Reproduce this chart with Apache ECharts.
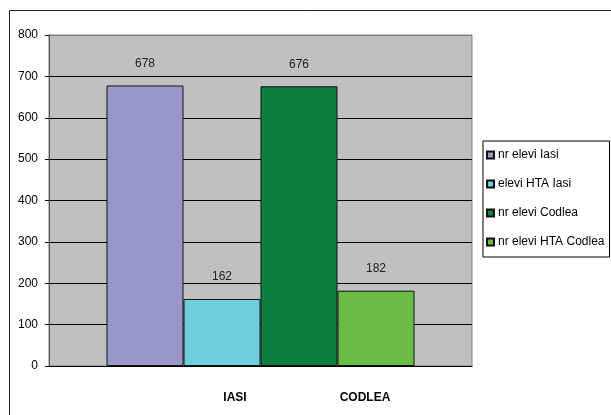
<!DOCTYPE html>
<html>
<head>
<meta charset="utf-8">
<script src="https://cdn.jsdelivr.net/npm/echarts@6/dist/echarts.min.js"></script>
<style>
  html, body { margin: 0; padding: 0; background: #fff; }
  #chart { width: 611px; height: 415px; }
</style>
</head>
<body>
<div id="chart"></div>
<script>
// Series names (legend entries)
const seriesNames = ['nr elevi Iasi', 'elevi HTA Iasi', 'nr elevi Codlea', 'nr elevi HTA Codlea'];
// Student counts, one value per series
const seriesValues = [678, 162, 676, 182];
const seriesColors = ['#9797CA', '#6FCEDC', '#0B8040', '#6BBC45'];
// Town labels shown under the bars
const townLabels = ['IASI', 'CODLEA'];
// Y axis ticks
const yMin = 0, yMax = 800, yStep = 100;

const FONT = '"Liberation Sans", Arial, sans-serif';

const chart = echarts.init(document.getElementById('chart'), null, { renderer: 'canvas' });

const series = seriesNames.map((name, i) => ({
  name: name,
  type: 'bar',
  data: [seriesValues[i]],
  barWidth: 77,
  barGap: '0%',
  itemStyle: { color: seriesColors[i], borderColor: '#111', borderWidth: 1 },
  label: {
    show: true,
    position: 'top',
    distance: 16,
    color: '#222',
    fontFamily: FONT,
    fontSize: 12
  }
}));

// split line colours: black inside, grey at the top border
const splitColors = [];
for (let v = yMin; v <= yMax; v += yStep) splitColors.push(v === yMax ? '#808080' : '#000');

chart.setOption({
  animation: false,
  backgroundColor: '#fff',
  graphic: [{
    type: 'rect',
    shape: { x: 9.5, y: 10.5, width: 700, height: 500 },
    style: { fill: 'none', stroke: '#222', lineWidth: 1 },
    silent: true,
    z: -10
  }],
  grid: {
    left: 49, right: 139, top: 35, bottom: 49,
    show: true,
    backgroundColor: '#C0C0C0',
    borderColor: '#808080',
    borderWidth: 1
  },
  legend: {
    orient: 'vertical',
    left: 483,
    top: 141,
    icon: 'rect',
    itemWidth: 7,
    itemHeight: 7,
    itemGap: 17,
    padding: [8, 5, 9, 3],
    borderColor: '#000',
    borderWidth: 1,
    textStyle: { fontFamily: FONT, fontSize: 12, color: '#000', padding: [0, 0, 0, -1] },
    data: seriesNames
  },
  xAxis: {
    type: 'category',
    data: ['towns'],
    axisLine: { show: true, lineStyle: { color: '#000', width: 1 } },
    axisTick: { show: false },
    axisLabel: {
      margin: 26,
      formatter: () => '{s| }{a|' + townLabels[0] + '}{b|' + townLabels[1] + '}',
      rich: {
        s: { width: 79 },
        a: { width: 130, align: 'center', fontFamily: FONT, fontSize: 12, fontWeight: 'bold', color: '#000' },
        b: { width: 130, align: 'center', fontFamily: FONT, fontSize: 12, fontWeight: 'bold', color: '#000' }
      }
    },
    splitLine: { show: false }
  },
  yAxis: {
    type: 'value',
    min: yMin,
    max: yMax,
    interval: yStep,
    axisLine: { show: true, lineStyle: { color: '#555', width: 1 } },
    axisTick: { show: true, length: 4, lineStyle: { color: '#000' } },
    axisLabel: { margin: 11, fontFamily: FONT, fontSize: 12, color: '#000' },
    splitLine: { show: true, lineStyle: { color: splitColors, width: 1 } }
  },
  series: series
});
</script>
</body>
</html>
